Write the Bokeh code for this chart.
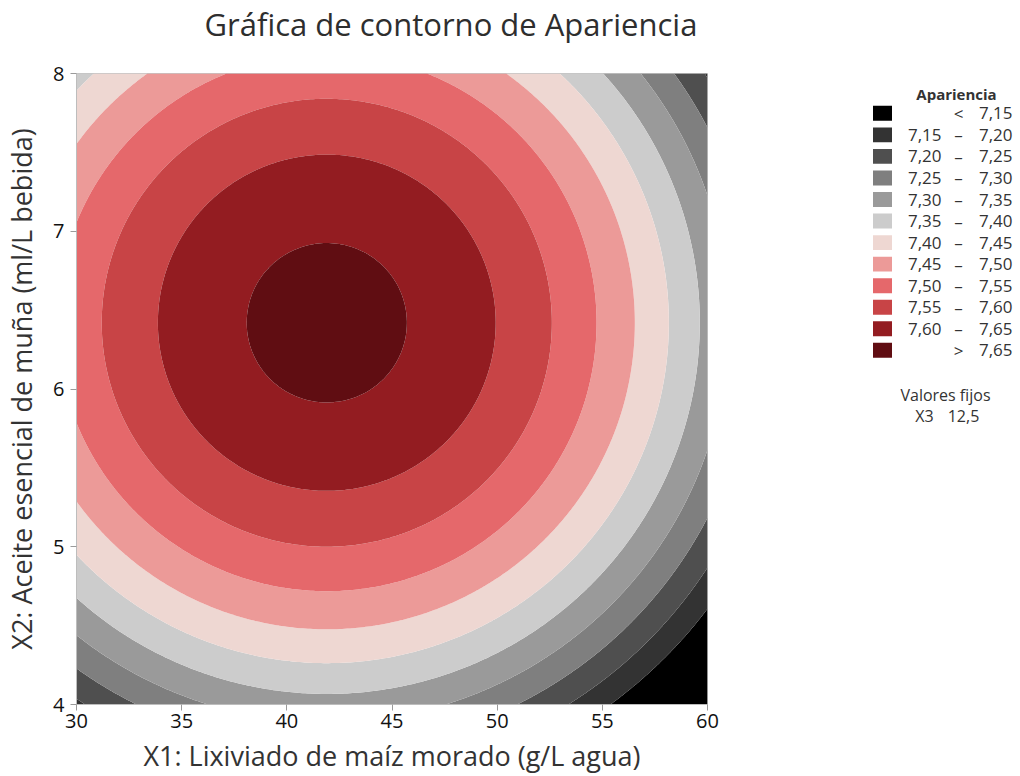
import numpy as np
from bokeh.plotting import figure
from bokeh.layouts import row
from bokeh.models import Range1d, Title
from bokeh.core.properties import value
from bokeh.embed import file_html
from bokeh.resources import INLINE

# ---- data ----
title_text = "Gráfica de contorno de Apariencia"
x_label = "X1: Lixiviado de maíz morado (g/L agua)"
y_label = "X2: Aceite esencial de muña (ml/L bebida)"
x_ticks = [30, 35, 40, 45, 50, 55, 60]
y_ticks = [4, 5, 6, 7, 8]
x_lo, x_hi = 30, 60
y_lo, y_hi = 4, 8

# fitted response-surface model (estimated from the contour picture)
peak_value = 7.6645
center_x1 = 41.9
center_x2 = 6.42
curv_x1 = 0.0010
curv_x2 = 0.0568

breaks = [7.15, 7.20, 7.25, 7.30, 7.35, 7.40, 7.45, 7.50, 7.55, 7.60, 7.65]
colors = ["#000000", "#333333", "#4f4f4f", "#7f7f7f", "#9a9a9a", "#cccccc",
          "#eed7d2", "#ec9a98", "#e5686b", "#c84446", "#931c21", "#600d12"]
legend_title = "Apariencia"
fixed_title = "Valores fijos"
fixed_name = "X3"
fixed_value = "12,5"

FONT = "Open Sans"
TXT = "#333333"

# ---- surface ----
gx = np.linspace(x_lo, x_hi, 241)
gy = np.linspace(y_lo, y_hi, 241)
X, Y = np.meshgrid(gx, gy)
Z = peak_value - curv_x1 * (X - center_x1) ** 2 - curv_x2 * (Y - center_x2) ** 2
levels = [min(Z.min(), breaks[0]) - 0.1] + breaks + [max(Z.max(), breaks[-1]) + 0.1]

# ---- main figure ----
p = figure(width=768, height=776, x_range=Range1d(x_lo, x_hi), y_range=Range1d(y_lo, y_hi),
           output_backend="svg", toolbar_location=None, title=None,
           min_border_left=75, min_border_right=61, min_border_top=72, min_border_bottom=70)
p.contour(X, Y, Z, levels, fill_color=colors, line_color=None)

# spacer between frame and title, then the title itself
p.add_layout(Title(text=" ", text_font_size="1px", standoff=26), "above")
t = Title(text=title_text, align="left", offset=128, text_font=FONT, text_font_size="31px",
          text_color="#2e2e2e", text_font_style="normal", standoff=0, vertical_align="bottom")
p.add_layout(t, "above")

p.xgrid.visible = False
p.ygrid.visible = False
p.outline_line_color = "#c4c4c4"
p.background_fill_color = "white"
for ax in (p.xaxis, p.yaxis):
    ax.axis_line_color = "#bdbdbd"
    ax.major_tick_line_color = "#9a9a9a"
    ax.major_tick_out = 6
    ax.major_tick_in = 0
    ax.minor_tick_line_color = None
    ax.major_label_text_font = FONT
    ax.major_label_text_font_size = "20px"
    ax.major_label_text_color = "#111111"
    ax.axis_label_text_font = FONT
    ax.axis_label_text_font_size = "27px"
    ax.axis_label_text_font_style = "normal"
    ax.axis_label_text_color = TXT
p.xaxis.ticker = x_ticks
p.yaxis.ticker = y_ticks
p.xaxis.major_label_standoff = 3
p.yaxis.major_label_standoff = 6
p.xaxis.axis_label = x_label
p.yaxis.axis_label = y_label
p.xaxis.axis_label_standoff = 6
p.yaxis.axis_label_standoff = 10

# ---- legend figure (page-pixel coordinates; frame aligned with main frame) ----
q = figure(width=252, height=776, x_range=Range1d(768, 1020), y_range=Range1d(706, 72),
           output_backend="svg", toolbar_location=None, x_axis_type=None, y_axis_type=None,
           min_border_left=0, min_border_right=0, min_border_top=72, min_border_bottom=70)
q.outline_line_color = None
q.xgrid.visible = False
q.ygrid.visible = False

n = len(colors)
row_y = [112 + 21.65 * i for i in range(n)]
q.rect(x=[882] * n, y=row_y, width=19, height=15, fill_color=colors, line_color=None)

def fmt(v):
    return f"{v:.2f}".replace(".", ",")

low_txt, dash_txt, high_txt = [], [], []
for i in range(n):
    if i == 0:
        low_txt.append(""); dash_txt.append("<"); high_txt.append(fmt(breaks[0]))
    elif i == n - 1:
        low_txt.append(""); dash_txt.append(">"); high_txt.append(fmt(breaks[-1]))
    else:
        low_txt.append(fmt(breaks[i - 1])); dash_txt.append("–"); high_txt.append(fmt(breaks[i]))

common = dict(text_font=value(FONT), text_font_size="17px", text_color=TXT, text_baseline="middle")
q.text(x=[941] * n, y=row_y, text=low_txt, text_align="right", **common)
q.text(x=[958] * n, y=row_y, text=dash_txt, text_align="center", **common)
q.text(x=[1012] * n, y=row_y, text=high_txt, text_align="right", **common)
small = dict(text_font=value(FONT), text_font_size="16px", text_color=TXT,
             text_baseline="middle", text_align="center")
q.text(x=[956], y=[93], text=[legend_title], text_font_style="bold",
       **dict(small, text_font_size="15px"))
q.text(x=[945], y=[395], text=[fixed_title], **small)
q.text(x=[924], y=[416], text=[fixed_name], **small)
q.text(x=[963], y=[416], text=[fixed_value], **small)

layout = row(p, q)
open("out.html", "w").write(file_html(layout, INLINE))
